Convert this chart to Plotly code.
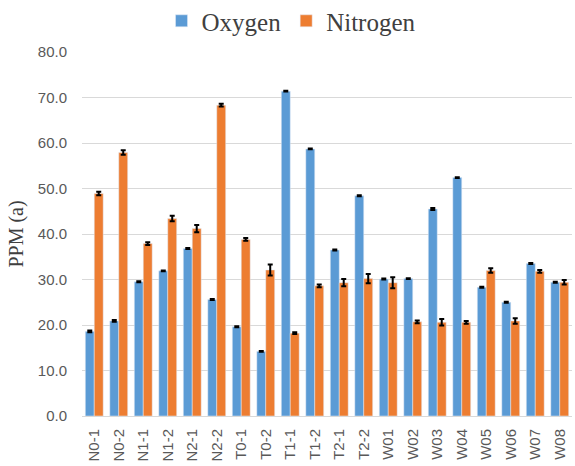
import plotly.graph_objects as go

samples = ["N0-1", "N0-2", "N1-1", "N1-2", "N2-1", "N2-2", "T0-1", "T0-2", "T1-1", "T1-2",
           "T2-1", "T2-2", "W01", "W02", "W03", "W04", "W05", "W06", "W07", "W08"]
oxygen = [18.6, 20.9, 29.5, 31.9, 36.8, 25.6, 19.6, 14.2, 71.4, 58.7,
          36.5, 48.4, 30.1, 30.2, 45.5, 52.4, 28.3, 25.0, 33.5, 29.4]
oxygen_err = [0.2, 0.2, 0.1, 0.1, 0.1, 0.1, 0.1, 0.1, 0.1, 0.1,
              0.1, 0.1, 0.1, 0.1, 0.2, 0.1, 0.1, 0.1, 0.1, 0.1]
nitrogen = [48.9, 57.9, 37.9, 43.4, 41.2, 68.3, 38.8, 32.1, 18.2, 28.6,
            29.3, 30.2, 29.3, 20.7, 20.6, 20.6, 32.0, 20.9, 31.8, 29.4]
nitrogen_err = [0.4, 0.5, 0.3, 0.6, 0.8, 0.3, 0.3, 1.2, 0.2, 0.3,
                0.8, 1.0, 1.2, 0.3, 0.7, 0.3, 0.5, 0.6, 0.3, 0.5]
y_ticks = [0, 10, 20, 30, 40, 50, 60, 70, 80]

err_style = dict(type="data", color="black", thickness=2, width=2.5)

fig = go.Figure()
fig.add_trace(go.Bar(x=samples, y=oxygen, name="Oxygen", marker_color="#5B9BD5",
                     error_y=dict(array=oxygen_err, **err_style)))
fig.add_trace(go.Bar(x=samples, y=nitrogen, name="Nitrogen", marker_color="#ED7D31",
                     error_y=dict(array=nitrogen_err, **err_style)))

fig.update_layout(
    width=575, height=466,
    margin=dict(l=82, r=3, t=52, b=50, autoexpand=False),
    paper_bgcolor="white", plot_bgcolor="white",
    barmode="group", bargap=0.27, bargroupgap=0,
    legend=dict(orientation="h", xref="container", x=0.507, xanchor="center",
                y=1.085, yanchor="middle",
                font=dict(family="Liberation Serif", size=25, color="#404040"),
                itemwidth=30, traceorder="normal"),
    font=dict(family="Liberation Sans", color="#595959"),
)
fig.update_yaxes(range=[0, 80], tickvals=y_ticks, tickformat=".1f",
                 showgrid=True, gridcolor="#d9d9d9", gridwidth=1, zeroline=False,
                 showline=False, tickfont=dict(size=15, color="#595959"), ticklen=0,
                 ticks="", ticklabelstandoff=14,
                 title=dict(text="PPM (a)", font=dict(family="Liberation Serif", size=20, color="#404040"),
                            standoff=8))
fig.update_xaxes(showline=True, linecolor="#d9d9d9", linewidth=1, tickangle=-90,
                 tickfont=dict(size=15, color="#595959"), ticks="", ticklabelstandoff=6)

# page body has a default margin; drop it so the figure fills the window
fig.write_html("out.html", config={"displayModeBar": False},
               post_script="document.body.style.margin = '0';")
